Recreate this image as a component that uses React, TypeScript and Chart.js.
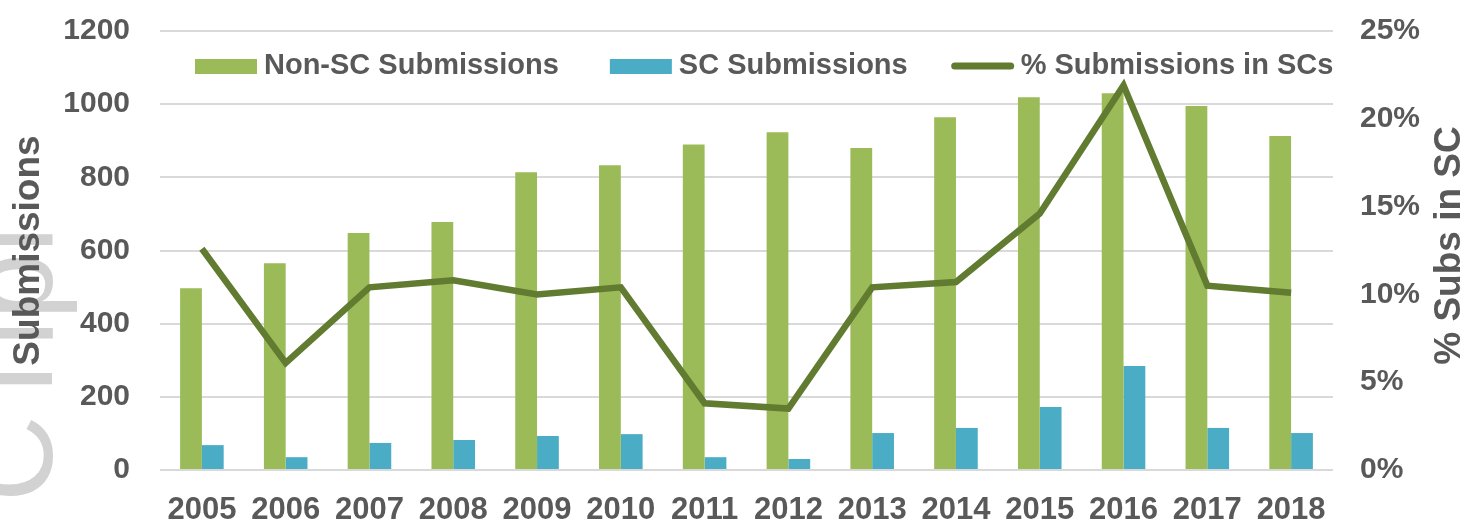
import React, { useEffect, useRef } from "react";
import { Chart, registerables } from "chart.js";

Chart.register(...registerables);

const years = ["2005", "2006", "2007", "2008", "2009", "2010", "2011", "2012", "2013", "2014", "2015", "2016", "2017", "2018"];
const nonScSubmissions = [497, 565, 648, 678, 814, 833, 890, 923, 880, 964, 1019, 1030, 995, 913];
const scSubmissions = [68, 35, 74, 82, 93, 98, 35, 30, 101, 115, 172, 284, 115, 101];
const pctInSc = [12.6, 6.1, 10.4, 10.8, 10.0, 10.4, 3.8, 3.5, 10.4, 10.7, 14.6, 21.9, 10.5, 10.1];
const leftTicks = [0, 200, 400, 600, 800, 1000, 1200];
const leftTickLabels = ["0", "200", "400", "600", "800", "1000", "1200"];
const rightTicks = [0, 5, 10, 15, 20, 25];
const rightTickLabels = ["0%", "5%", "10%", "15%", "20%", "25%"];

const seriesNames = ["Non-SC Submissions", "SC Submissions", "% Submissions in SCs"];
const leftTitle = "Submissions";
const rightTitle = "% Subs in SC";
const watermark = "CTipl";

const GREEN = "#9bbb59";
const BLUE = "#4bacc6";
const OLIVE = "#617b30";
const TEXT = "#595959";
const GRID = "#d9d9d9";
const FONT = "'Liberation Sans', Arial, Helvetica, sans-serif";

const overlayPlugin = {
  id: "overlay",
  beforeDraw(chart: any) {
    const ctx = chart.ctx;
    ctx.save();
    ctx.translate(52, 502);
    ctx.rotate(-Math.PI / 2);
    ctx.font = `normal 120px ${FONT}`;
    ctx.fillStyle = "#d2d2d2";
    ctx.textAlign = "left";
    ctx.textBaseline = "alphabetic";
    ctx.fillText(watermark, 0, 0);
    ctx.restore();
  },
  afterDraw(chart: any) {
    const ctx = chart.ctx;
    const area = chart.chartArea;
    ctx.save();
    ctx.fillStyle = TEXT;
    ctx.font = `bold 37px ${FONT}`;
    ctx.textAlign = "center";
    ctx.textBaseline = "middle";
    ctx.save();
    ctx.translate(29, (area.top + area.bottom) / 2);
    ctx.rotate(-Math.PI / 2);
    ctx.fillText(leftTitle, 0, 0);
    ctx.restore();
    ctx.save();
    ctx.translate(1450, (area.top + area.bottom) / 2 - 5);
    ctx.rotate(-Math.PI / 2);
    ctx.fillText(rightTitle, 0, 0);
    ctx.restore();

    ctx.font = `bold 29px ${FONT}`;
    ctx.textAlign = "left";
    ctx.textBaseline = "middle";
    const cy = 66;
    let x = 195;
    const colors = [GREEN, BLUE, OLIVE];
    seriesNames.forEach((name, i) => {
      if (i < 2) {
        ctx.fillStyle = colors[i];
        ctx.fillRect(x, cy - 7, 62, 15);
      } else {
        ctx.strokeStyle = colors[i];
        ctx.lineWidth = 7;
        ctx.lineCap = "round";
        ctx.beginPath();
        ctx.moveTo(x + 3, cy);
        ctx.lineTo(x + 59, cy);
        ctx.stroke();
      }
      x += 62 + 7;
      ctx.fillStyle = TEXT;
      ctx.fillText(name, x, cy);
      x += ctx.measureText(name).width + (i === 0 ? 51 : 44);
    });
    ctx.restore();
  },
};

export default function App() {
  const ref = useRef<HTMLCanvasElement | null>(null);
  useEffect(() => {
    if (!ref.current) return;
    const chart = new Chart(ref.current, {
      type: "bar",
      data: {
        labels: years,
        datasets: [
          {
            type: "line",
            label: seriesNames[2],
            data: pctInSc,
            yAxisID: "y1",
            borderColor: OLIVE,
            backgroundColor: OLIVE,
            borderWidth: 6.5,
            pointRadius: 0,
            tension: 0,
            borderJoinStyle: "miter",
            order: 0,
          } as any,
          {
            type: "bar",
            label: seriesNames[0],
            data: nonScSubmissions,
            yAxisID: "y",
            backgroundColor: GREEN,
            categoryPercentage: 0.52,
            barPercentage: 1,
            order: 1,
          },
          {
            type: "bar",
            label: seriesNames[1],
            data: scSubmissions,
            yAxisID: "y",
            backgroundColor: BLUE,
            categoryPercentage: 0.52,
            barPercentage: 1,
            order: 1,
          },
        ],
      },
      options: {
        animation: false,
        responsive: true,
        maintainAspectRatio: false,
        layout: { padding: { top: 31, left: 0, right: 0, bottom: 0 } },
        plugins: { legend: { display: false }, tooltip: { enabled: false } },
        scales: {
          x: {
            grid: { display: false },
            border: { display: false },
            ticks: {
              color: TEXT,
              font: { family: FONT, size: 31, weight: "bold" },
              padding: 14,
              maxRotation: 0,
              autoSkip: false,
            },
            afterFit: (s: any) => {
              s.height = 54;
            },
          },
          y: {
            position: "left",
            min: 0,
            max: 1200,
            grid: { color: GRID, lineWidth: 2, drawTicks: true, tickLength: 30, tickColor: "rgba(0,0,0,0)" },
            border: { display: false },
            ticks: {
              color: TEXT,
              font: { family: FONT, size: 30, weight: "bold" },
              padding: 0,
              callback: (v: any) => {
                const i = leftTicks.indexOf(Number(v));
                return i >= 0 ? leftTickLabels[i] : "";
              },
            },
            afterBuildTicks: (s: any) => {
              s.ticks = leftTicks.map((v) => ({ value: v }));
            },
            afterFit: (s: any) => {
              s.width = 160;
            },
          },
          y1: {
            position: "right",
            min: 0,
            max: 25,
            grid: { drawOnChartArea: false, drawTicks: true, tickLength: 27, tickColor: "rgba(0,0,0,0)" },
            border: { display: false },
            ticks: {
              color: TEXT,
              font: { family: FONT, size: 30, weight: "bold" },
              padding: 0,
              callback: (v: any) => {
                const i = rightTicks.indexOf(Number(v));
                return i >= 0 ? rightTickLabels[i] : "";
              },
            },
            afterBuildTicks: (s: any) => {
              s.ticks = rightTicks.map((v) => ({ value: v }));
            },
            afterFit: (s: any) => {
              s.width = 137;
            },
          },
        },
      },
      plugins: [overlayPlugin],
    });
    return () => chart.destroy();
  }, []);

  return (
    <div style={{ position: "absolute", left: 0, top: 0, width: 1470, height: 524, background: "#fff" }}>
      <canvas ref={ref} />
    </div>
  );
}
